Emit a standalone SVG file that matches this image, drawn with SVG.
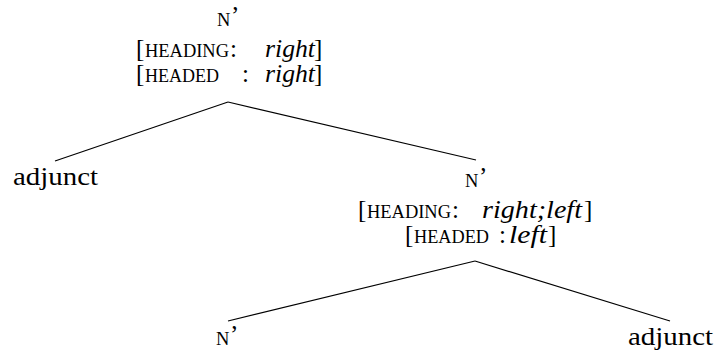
<svg xmlns="http://www.w3.org/2000/svg" width="715" height="351" viewBox="0 0 715 351">
<style>
text{fill:#000;font-size:25px;font-family:'Liberation Serif',serif}
.sc{font-size:18.5px}
.it{font-style:italic}
.big{font-size:26px}
line{stroke:#000;stroke-width:1.2}
</style>
<rect width="715" height="351" fill="#fff"/>
<g id="connectors">
<line x1="228" y1="102" x2="55" y2="161"/>
<line x1="228" y1="102" x2="476" y2="160"/>
<line x1="475" y1="261" x2="228" y2="321"/>
<line x1="475" y1="261" x2="670" y2="321"/>
</g>
<g id="root">
<text x="217" y="26"><tspan class="sc">N</tspan><tspan x="231" y="24">’</tspan></text>
<text x="136" y="57">[<tspan x="145" class="sc" textLength="84" lengthAdjust="spacingAndGlyphs">HEADING</tspan><tspan x="230">:</tspan><tspan x="265" class="it" textLength="50" lengthAdjust="spacingAndGlyphs">right</tspan><tspan x="314">]</tspan></text>
<text x="136" y="82">[<tspan x="145" class="sc" textLength="74" lengthAdjust="spacingAndGlyphs">HEADED</tspan><tspan x="242">:</tspan><tspan x="265" class="it" textLength="50" lengthAdjust="spacingAndGlyphs">right</tspan><tspan x="314">]</tspan></text>
</g>
<g id="adjunct1">
<text x="13" y="185" class="big" textLength="85" lengthAdjust="spacingAndGlyphs">adjunct</text>
</g>
<g id="nbar2">
<text x="465" y="187"><tspan class="sc">N</tspan><tspan x="479" y="185">’</tspan></text>
<text x="358" y="218">[<tspan x="367" class="sc" textLength="84" lengthAdjust="spacingAndGlyphs">HEADING</tspan><tspan x="452">:</tspan><tspan x="482" class="it" textLength="100" lengthAdjust="spacingAndGlyphs">right;left</tspan><tspan x="584">]</tspan></text>
<text x="405" y="243">[<tspan x="414" class="sc" textLength="75" lengthAdjust="spacingAndGlyphs">HEADED</tspan><tspan x="499">:</tspan><tspan x="509" class="it" textLength="38" lengthAdjust="spacingAndGlyphs">left</tspan><tspan x="548">]</tspan></text>
</g>
<g id="nbar3">
<text x="216" y="345"><tspan class="sc">N</tspan><tspan x="230" y="343">’</tspan></text>
</g>
<g id="adjunct2">
<text x="628" y="345" class="big" textLength="85" lengthAdjust="spacingAndGlyphs">adjunct</text>
</g>
</svg>
